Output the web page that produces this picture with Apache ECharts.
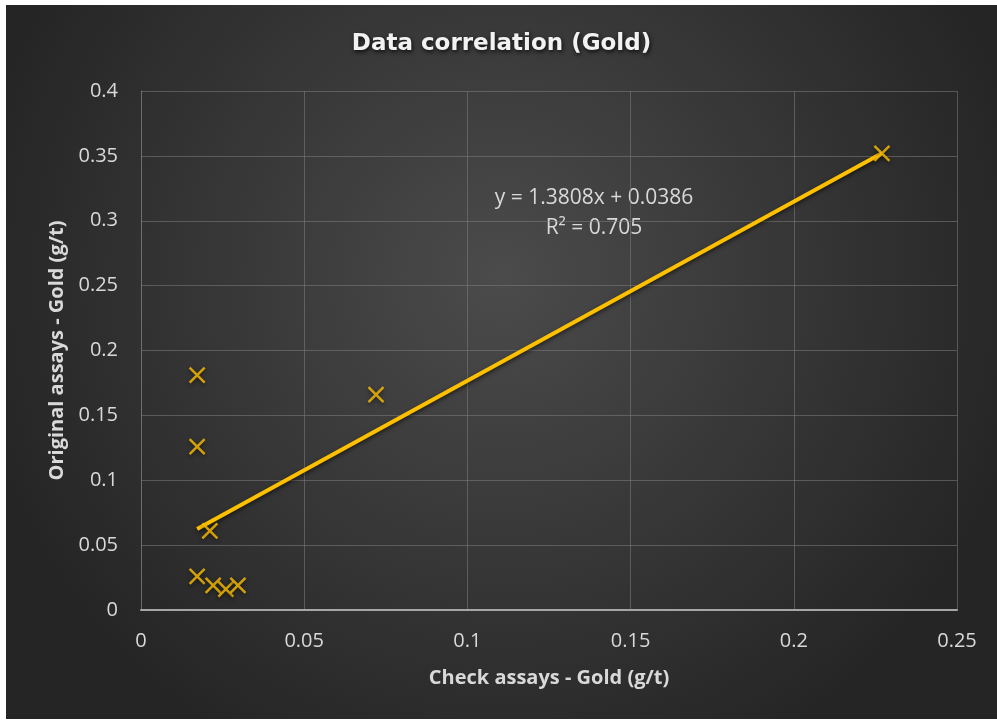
<!DOCTYPE html>
<html>
<head>
<meta charset="utf-8">
<script src="https://cdn.jsdelivr.net/npm/echarts@6/dist/echarts.min.js"></script>
<style>
html,body{margin:0;padding:0;background:#fff;}
#c{position:absolute;left:6px;top:5px;width:991px;height:714px;}
</style>
</head>
<body>
<div id="c"></div>
<script>
// Data
const checkAssays = [0.0172, 0.0172, 0.0211, 0.0172, 0.0221, 0.0260, 0.0297, 0.0720, 0.2270];
const originalAssays = [0.181, 0.126, 0.061, 0.026, 0.019, 0.016, 0.019, 0.166, 0.352];
const trendSlope = 1.3808;
const trendIntercept = 0.0386;
const trendR2 = 0.705;
const xTicks = [0, 0.05, 0.1, 0.15, 0.2, 0.25];
const yTicks = [0, 0.05, 0.1, 0.15, 0.2, 0.25, 0.3, 0.35, 0.4];

const points = checkAssays.map((x, i) => [x, originalAssays[i]]);
const xMin = Math.min(...checkAssays), xMax = Math.max(...checkAssays);
const trend = [[xMin, trendSlope * xMin + trendIntercept], [xMax, trendSlope * xMax + trendIntercept]];

const chart = echarts.init(document.getElementById('c'));
const txt = '#d9d9d9';
const lbl = {color: txt, fontFamily: 'Open Sans', fontSize: 20};
const grid = 'rgba(125,125,125,0.55)';
chart.setOption({
  backgroundColor: new echarts.graphic.RadialGradient(0.5, 0.38, 0.75, [
    {offset: 0, color: '#4b4b4b'},
    {offset: 1, color: '#252525'}
  ]),
  title: {
    text: 'Data correlation (Gold)',
    left: 'center', top: 23,
    textStyle: {color: '#f2f2f2', fontFamily: 'DejaVu Sans', fontWeight: 'bold', fontSize: 23,
      textShadowColor: 'rgba(0,0,0,0.8)', textShadowBlur: 4, textShadowOffsetX: 1, textShadowOffsetY: 2}
  },
  grid: {left: 135, right: 40, top: 86, bottom: 109},
  xAxis: {
    type: 'value', min: 0, max: 0.25, interval: 0.05,
    name: 'Check assays - Gold (g/t)', nameLocation: 'middle', nameGap: 58,
    nameTextStyle: {color: txt, fontFamily: 'Open Sans', fontWeight: 'bold', fontSize: 20},
    axisLine: {show: true, lineStyle: {color: '#a6a6a6', width: 2}},
    axisTick: {show: false},
    axisLabel: Object.assign({margin: 21, formatter: v => String(+v.toFixed(2))}, lbl),
    splitLine: {show: true, lineStyle: {color: grid, width: 1}}
  },
  yAxis: {
    type: 'value', min: 0, max: 0.4, interval: 0.05,
    name: 'Original assays - Gold (g/t)', nameLocation: 'middle', nameGap: 74,
    nameTextStyle: {color: txt, fontFamily: 'Open Sans', fontWeight: 'bold', fontSize: 20},
    axisLine: {show: true, lineStyle: {color: grid, width: 1}},
    axisTick: {show: false},
    axisLabel: Object.assign({margin: 23, formatter: v => String(+v.toFixed(2))}, lbl),
    splitLine: {show: true, lineStyle: {color: grid, width: 1}}
  },
  series: [
    {
      type: 'line', data: trend, symbol: 'none', silent: true, z: 2,
      lineStyle: {color: '#ffc000', width: 4, shadowColor: 'rgba(0,0,0,0.6)', shadowBlur: 4, shadowOffsetY: 2}
    },
    {
      type: 'scatter', data: points, z: 3,
      symbol: 'path://M0,0 L10,10 M10,0 L0,10', symbolSize: 15,
      itemStyle: {color: 'none', borderColor: '#ffc000', borderWidth: 2.5,
        shadowColor: 'rgba(0,0,0,0.6)', shadowBlur: 4, shadowOffsetY: 2}
    }
  ],
  graphic: [
    {type: 'text', x: 588, y: 178, style: {text: 'y = ' + trendSlope + 'x + ' + trendIntercept + '\nR² = ' + trendR2,
      fill: txt, font: '21px "Open Sans"', align: 'center', verticalAlign: 'top', lineHeight: 30}}
  ]
});
</script>
</body>
</html>
